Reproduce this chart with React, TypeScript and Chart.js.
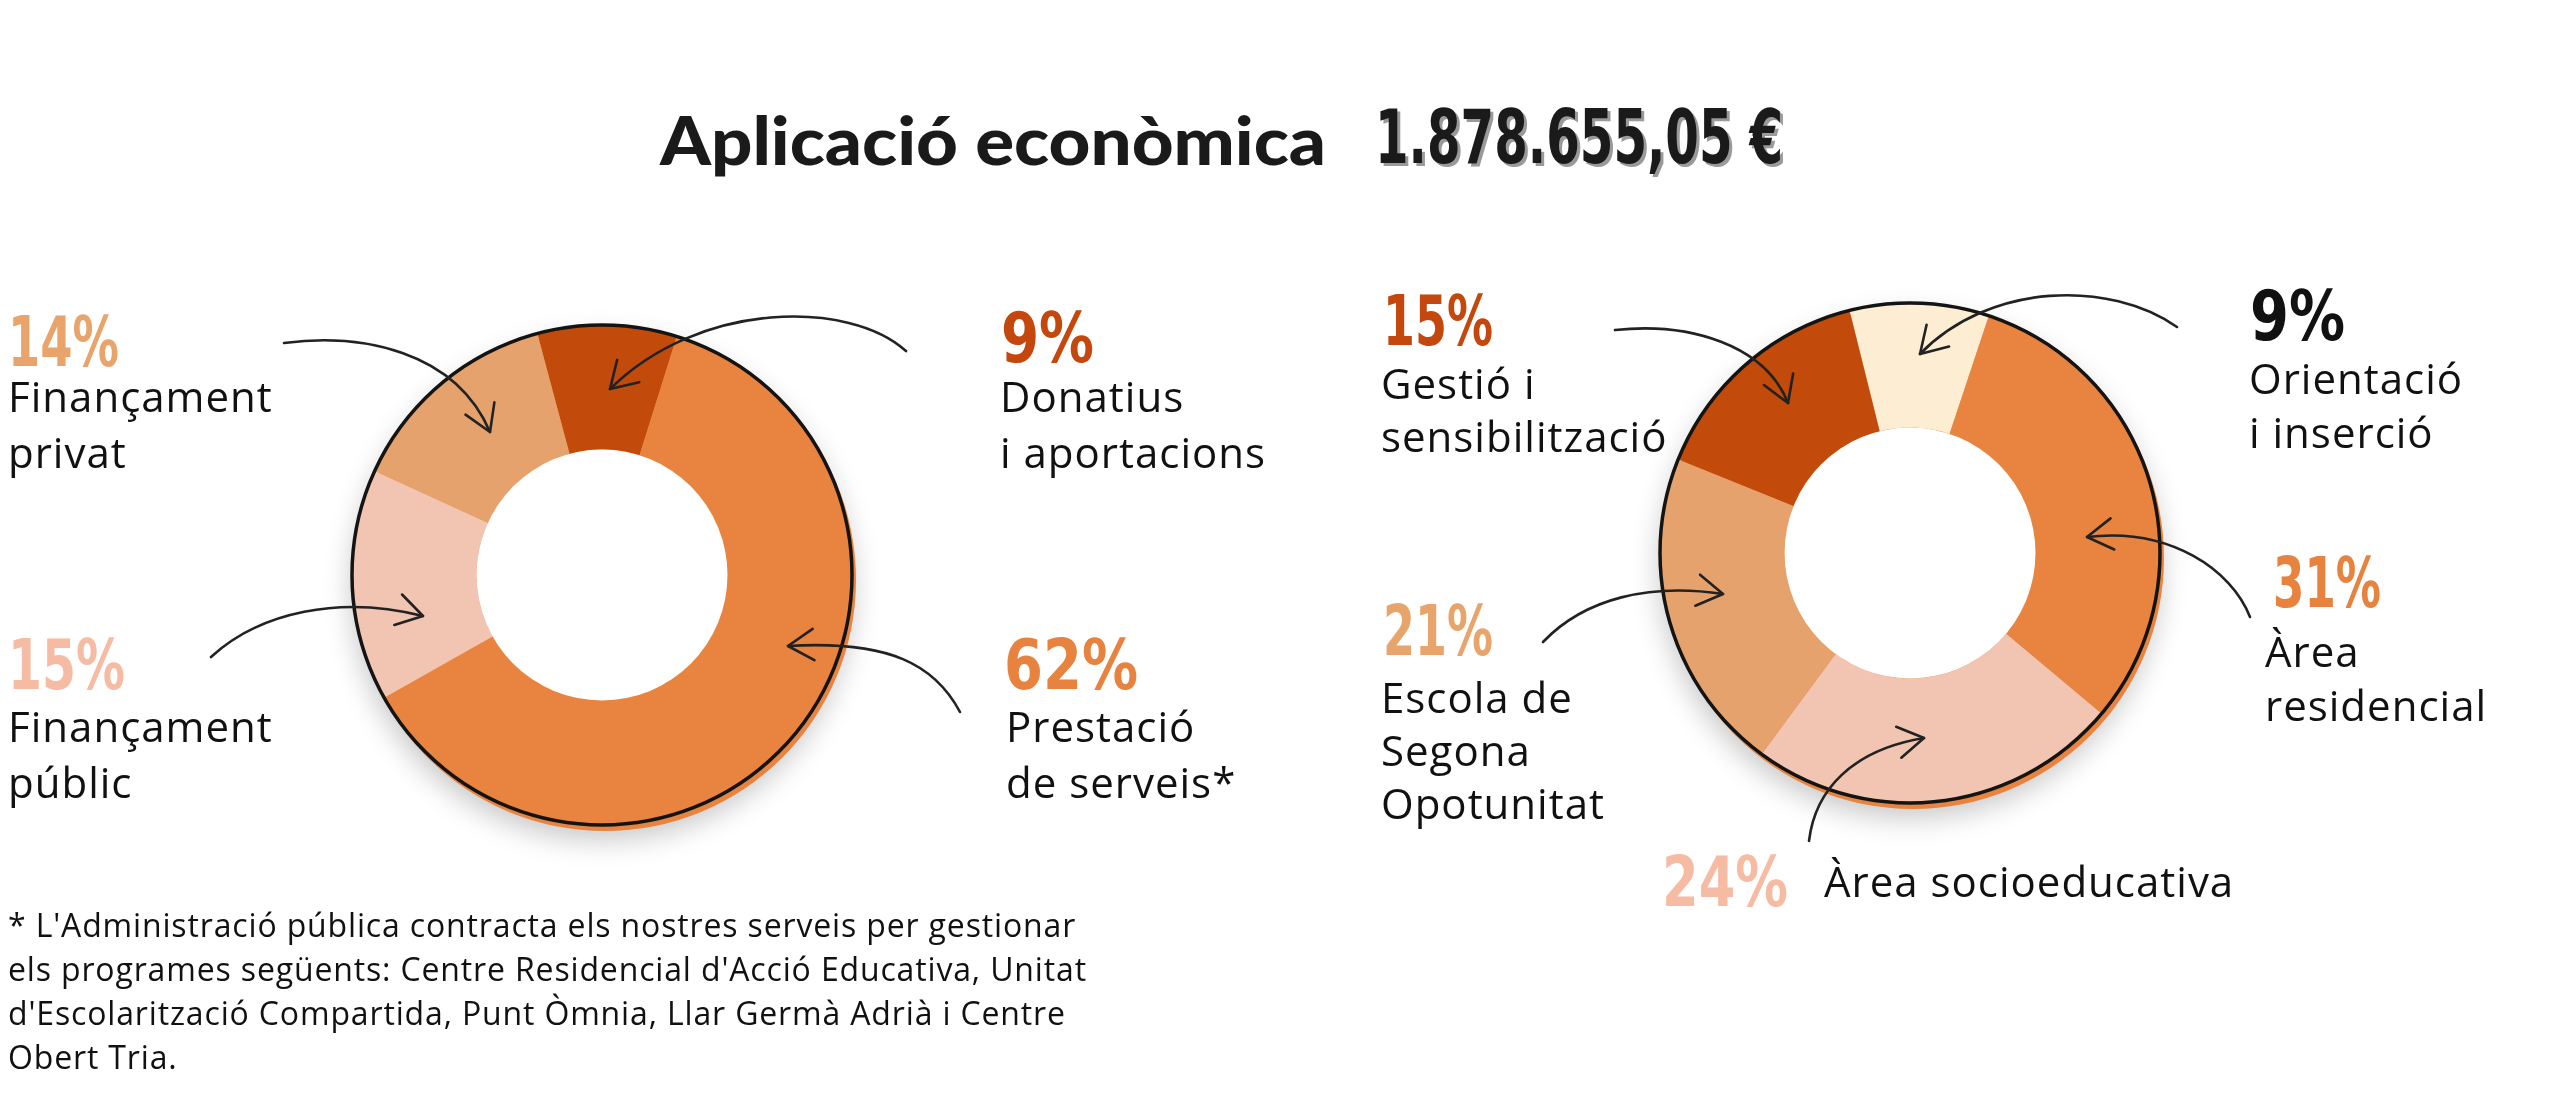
import React, { useEffect, useRef } from "react";
import { Chart, registerables } from "chart.js";

Chart.register(...registerables);

// ---------- DATA ----------
const leftLabels = ["Donatius\ni aportacions", "Prestació\nde serveis*", "Finançament\npúblic", "Finançament\nprivat"];
const leftValues = [9, 62, 15, 14];
const leftColors = ["#C24A0B", "#E8843F", "#F2C5B2", "#E6A26D"];
const leftPctColors = ["#C4480E", "#E8833F", "#F6BBA3", "#E9A46B"];

const rightLabels = ["Orientació\ni inserció", "Àrea\nresidencial", "Àrea socioeducativa", "Escola de\nSegona\nOpotunitat", "Gestió i\nsensibilització"];
const rightValues = [9, 31, 24, 21, 15];
const rightColors = ["#FDEDD3", "#E8843F", "#F2C5B2", "#E6A26D", "#C24A0B"];
const rightPctColors = ["#111111", "#E8833F", "#F6BBA3", "#E9A46B", "#C4480E"];

const titleText = "Aplicació econòmica";
const amountText = "1.878.655,05 €";
const footnoteLines = [
  "* L'Administració pública contracta els nostres serveis per gestionar",
  "els programes següents: Centre Residencial d'Acció Educativa, Unitat",
  "d'Escolarització Compartida, Punt Òmnia, Llar Germà Adrià i Centre",
  "Obert Tria.",
];

// ---------- LAYOUT ----------
const W = 2560;
const H = 1096;
const CANVAS = 600;
const RADIUS = 251;
const leftCenter = { x: 602, y: 575 };
const rightCenter = { x: 1910, y: 553 };

// px/py: percentage position (baseline), pw: its drawn width; tx/ty: label start, gap: line pitch
const leftLayout = [
  { px: 1001, py: 362, pw: 93, tx: 1000, ty: 412, gap: 56 },
  { px: 1004, py: 689, pw: 134, tx: 1006, ty: 742, gap: 56 },
  { px: 8, py: 689, pw: 117, tx: 8, ty: 742, gap: 56 },
  { px: 8, py: 366, pw: 111, tx: 8, ty: 412, gap: 56 },
];
const rightLayout = [
  { px: 2250, py: 340, pw: 95, tx: 2249, ty: 394, gap: 54 },
  { px: 2273, py: 607, pw: 108, tx: 2265, ty: 667, gap: 54 },
  { px: 1662, py: 906, pw: 126, tx: 1824, ty: 897, gap: 54 },
  { px: 1383, py: 655, pw: 110, tx: 1381, ty: 713, gap: 53 },
  { px: 1383, py: 345, pw: 110, tx: 1381, ty: 399, gap: 53 },
];

// arrows: cubic bezier [x0,y0, c1x,c1y, c2x,c2y, x1,y1]
const arrows = [
  [284, 343, 360, 333, 455, 350, 490, 432],
  [906, 351, 850, 300, 700, 300, 610, 389],
  [211, 657, 260, 612, 340, 595, 423, 616],
  [960, 712, 935, 665, 890, 640, 788, 646],
  [1615, 330, 1690, 322, 1765, 345, 1788, 403],
  [2177, 327, 2110, 280, 1990, 282, 1920, 354],
  [2250, 617, 2232, 570, 2170, 527, 2087, 537],
  [1543, 642, 1585, 598, 1650, 583, 1723, 594],
  [1809, 841, 1815, 790, 1852, 750, 1924, 738],
];

const bodyFont = "'Open Sans', 'Noto Sans', sans-serif";
const pctFont = "'DejaVu Sans Condensed', 'DejaVu Sans', sans-serif";

const ringPlugin = {
  id: "ringDecor",
  beforeDatasetsDraw(chart: any) {
    const arc = chart.getDatasetMeta(0).data[0];
    if (!arc) return;
    const { x, y, outerRadius } = arc.getProps(["x", "y", "outerRadius"], true);
    const ctx = chart.ctx;
    ctx.save();
    ctx.shadowColor = "rgba(0,0,0,0.22)";
    ctx.shadowBlur = 28;
    ctx.shadowOffsetY = 14;
    ctx.beginPath();
    ctx.arc(x, y, outerRadius, 0, Math.PI * 2);
    ctx.fillStyle = "#ffffff";
    ctx.fill();
    ctx.restore();
    ctx.save();
    ctx.beginPath();
    ctx.arc(x + 3, y + 5, outerRadius, 0, Math.PI * 2);
    ctx.fillStyle = "#E8843F";
    ctx.fill();
    ctx.restore();
  },
  afterDatasetsDraw(chart: any) {
    const arc = chart.getDatasetMeta(0).data[0];
    if (!arc) return;
    const { x, y, outerRadius, innerRadius } = arc.getProps(["x", "y", "outerRadius", "innerRadius"], true);
    const ctx = chart.ctx;
    ctx.save();
    ctx.beginPath();
    ctx.arc(x, y, innerRadius, 0, Math.PI * 2);
    ctx.fillStyle = "#ffffff";
    ctx.fill();
    ctx.beginPath();
    ctx.arc(x, y, outerRadius - 1, 0, Math.PI * 2);
    ctx.lineWidth = 3.5;
    ctx.strokeStyle = "#141414";
    ctx.stroke();
    ctx.restore();
  },
};

function Donut({ labels, values, colors, rotation, center }: any) {
  const ref = useRef<HTMLCanvasElement>(null);
  useEffect(() => {
    if (!ref.current) return;
    const chart = new Chart(ref.current, {
      type: "doughnut",
      data: {
        labels,
        datasets: [
          {
            data: values,
            backgroundColor: colors,
            borderWidth: 0,
            radius: RADIUS,
            cutout: "50%",
          } as any,
        ],
      },
      options: {
        responsive: false,
        maintainAspectRatio: false,
        animation: false,
        rotation,
        events: [],
        layout: { padding: 0 },
        plugins: { legend: { display: false }, tooltip: { enabled: false } },
      },
      plugins: [ringPlugin],
    });
    return () => chart.destroy();
  }, []);
  return (
    <canvas
      ref={ref}
      width={CANVAS}
      height={CANVAS}
      style={{ position: "absolute", left: center.x - CANVAS / 2, top: center.y - CANVAS / 2, width: CANVAS, height: CANVAS }}
    />
  );
}

function arrowHead(a: number[]) {
  const [, , , , c2x, c2y, x1, y1] = a;
  const ang = Math.atan2(y1 - c2y, x1 - c2x);
  const L = 30;
  const s = 0.55;
  const p1 = [x1 - L * Math.cos(ang - s), y1 - L * Math.sin(ang - s)];
  const p2 = [x1 - L * Math.cos(ang + s), y1 - L * Math.sin(ang + s)];
  return `M${p1[0]},${p1[1]} L${x1},${y1} L${p2[0]},${p2[1]}`;
}

function Labels({ labels, values, pctColors, layout }: any) {
  return (
    <>
      {values.map((v: number, i: number) => {
        const l = layout[i];
        const lines = labels[i].split("\n");
        return (
          <g key={i}>
            <text
              x={l.px}
              y={l.py}
              fill={pctColors[i]}
              fontFamily={pctFont}
              fontWeight={700}
              fontSize={70}
              textLength={l.pw}
              lengthAdjust="spacingAndGlyphs"
            >
              {`${v}%`}
            </text>
            {lines.map((ln: string, j: number) => (
              <text
                key={j}
                x={l.tx}
                y={l.ty + j * l.gap}
                fill="#111"
                fontFamily={bodyFont}
                fontSize={42}
                letterSpacing={1.0}
              >
                {ln}
              </text>
            ))}
          </g>
        );
      })}
    </>
  );
}

export default function App() {
  return (
    <div style={{ position: "absolute", left: 0, top: 0, width: W, height: H, background: "#fff", overflow: "hidden" }}>
      <Donut labels={leftLabels} values={leftValues} colors={leftColors} rotation={-15} center={leftCenter} />
      <Donut labels={rightLabels} values={rightValues} colors={rightColors} rotation={-14} center={rightCenter} />
      <svg width={W} height={H} style={{ position: "absolute", left: 0, top: 0 }}>
        <text
          x={660}
          y={165}
          fill="#1a1a1a"
          fontFamily="Lato, 'Open Sans', sans-serif"
          fontWeight={900}
          fontSize={67}
          textLength={666}
          lengthAdjust="spacingAndGlyphs"
        >
          {titleText}
        </text>
        <text
          x={1378}
          y={166}
          fill="#9a9a9a"
          fontFamily={pctFont}
          fontWeight={700}
          fontSize={74}
          textLength={408}
          lengthAdjust="spacingAndGlyphs"
        >
          {amountText}
        </text>
        <text
          x={1375}
          y={163}
          fill="#1a1a1a"
          fontFamily={pctFont}
          fontWeight={700}
          fontSize={74}
          textLength={408}
          lengthAdjust="spacingAndGlyphs"
        >
          {amountText}
        </text>
        <Labels labels={leftLabels} values={leftValues} pctColors={leftPctColors} layout={leftLayout} />
        <Labels labels={rightLabels} values={rightValues} pctColors={rightPctColors} layout={rightLayout} />
        {arrows.map((a, i) => (
          <g key={i} fill="none" stroke="#222" strokeWidth={2.6} strokeLinecap="round" strokeLinejoin="round">
            <path d={`M${a[0]},${a[1]} C${a[2]},${a[3]} ${a[4]},${a[5]} ${a[6]},${a[7]}`} />
            <path d={arrowHead(a)} />
          </g>
        ))}
        {footnoteLines.map((ln, i) => (
          <text key={i} x={8} y={937 + i * 44} fill="#111" fontFamily={bodyFont} fontSize={32} letterSpacing={0.85}>
            {ln}
          </text>
        ))}
      </svg>
    </div>
  );
}
